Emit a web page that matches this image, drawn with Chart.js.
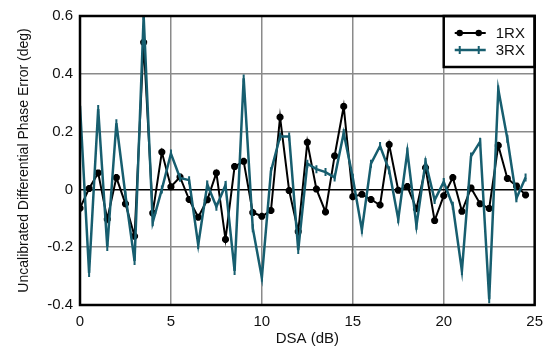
<!DOCTYPE html>
<html>
<head>
<meta charset="utf-8">
<script src="https://cdn.jsdelivr.net/npm/chart.js@4/dist/chart.umd.min.js"></script>
<style>
  html, body { margin: 0; padding: 0; background: #ffffff; }
  #wrap { width: 551px; height: 349px; position: relative; }
</style>
</head>
<body>
<div id="wrap"><canvas id="c" width="551" height="349"></canvas></div>
<script>
// ---- Data ----
const dsa = [0, 0.5, 1, 1.5, 2, 2.5, 3, 3.5, 4, 4.5, 5, 5.5, 6, 6.5, 7, 7.5, 8, 8.5, 9, 9.5,
             10, 10.5, 11, 11.5, 12, 12.5, 13, 13.5, 14, 14.5, 15, 15.5, 16, 16.5, 17, 17.5, 18, 18.5, 19, 19.5,
             20, 20.5, 21, 21.5, 22, 22.5, 23, 23.5, 24, 24.5];

const rx1 = [-0.065, 0.003, 0.057, -0.103, 0.041, -0.050, -0.162, 0.509, -0.082, 0.129,
             0.009, 0.043, -0.035, -0.096, -0.036, 0.057, -0.173, 0.079, 0.097, -0.080,
             -0.093, -0.073, 0.250, -0.004, -0.146, 0.163, 0.001, -0.078, 0.116, 0.287,
             -0.025, -0.017, -0.035, -0.054, 0.155, -0.003, 0.010, -0.067, 0.075, -0.108,
             -0.022, 0.041, -0.076, 0.005, -0.050, -0.066, 0.152, 0.038, 0.012, -0.019];

const rx3 = [0.289, -0.289, 0.278, -0.199, 0.229, -0.020, -0.248, 0.600, -0.114, 0.000,
             0.124, 0.040, 0.032, -0.192, 0.017, -0.060, 0.015, -0.282, 0.384, -0.134,
             -0.305, 0.063, 0.183, 0.183, -0.210, 0.089, 0.070, 0.060, 0.041, 0.195,
             0.040, -0.140, 0.089, 0.150, 0.066, -0.103, 0.131, -0.126, 0.095, -0.037,
             0.026, -0.057, -0.282, 0.114, 0.165, -0.380, 0.346, 0.175, -0.031, 0.041];

const seriesLabels = ['1RX', '3RX'];
const xTicks = [0, 5, 10, 15, 20, 25];
const yTicks = [-0.4, -0.2, 0, 0.2, 0.4, 0.6];
const xTitle = 'DSA (dB)';
const yTitle = 'Uncalibrated Differential Phase Error (deg)';

// ---- Styles ----
const BLACK = '#000000';
const TEAL = '#175e6f';
const GRID = '#8a8a8a';
const FONT = 'Liberation Sans, Arial, Helvetica, sans-serif';

const toPts = (xs, ys) => xs.map((x, i) => ({ x: x, y: ys[i] }));

const framePlugin = {
  id: 'frame',
  afterDatasetsDraw(chart) {
    const { ctx, chartArea: a } = chart;
    ctx.save();
    // legend box
    const lx = chart.scales.x.getPixelForValue(20);
    const lTop = a.top, lBot = a.top + 51;
    ctx.fillStyle = '#ffffff';
    ctx.fillRect(lx, lTop, a.right - lx, lBot - lTop);
    ctx.strokeStyle = BLACK;
    ctx.lineWidth = 2.5;
    ctx.strokeRect(lx, lTop, a.right - lx, lBot - lTop);
    // legend entries
    const ds = chart.data.datasets;
    const rows = [lTop + 17, lTop + 34];
    ds.forEach((d, i) => {
      const y = rows[i];
      const x0 = lx + 11, x1 = lx + 42;
      ctx.strokeStyle = d.borderColor;
      ctx.lineWidth = d.borderWidth;
      ctx.beginPath(); ctx.moveTo(x0, y); ctx.lineTo(x1, y); ctx.stroke();
      [x0 + 5, x1 - 7].forEach(px => {
        if (i === 0) {
          ctx.fillStyle = BLACK;
          ctx.beginPath(); ctx.arc(px, y, 3.2, 0, Math.PI * 2); ctx.fill();
        } else {
          ctx.lineWidth = 2;
          ctx.beginPath(); ctx.moveTo(px, y - 4); ctx.lineTo(px, y + 4); ctx.stroke();
        }
      });
      ctx.fillStyle = '#111';
      ctx.font = '15px ' + FONT;
      ctx.textBaseline = 'middle';
      ctx.textAlign = 'left';
      ctx.fillText(d.label, lx + 52, y + 1);
    });
    // plot frame
    ctx.strokeStyle = BLACK;
    ctx.lineWidth = 2.5;
    ctx.strokeRect(a.left, a.top, a.right - a.left, a.bottom - a.top);
    ctx.restore();
  }
};

new Chart(document.getElementById('c'), {
  type: 'line',
  data: {
    datasets: [
      {
        label: seriesLabels[0],
        data: toPts(dsa, rx1),
        borderColor: BLACK,
        backgroundColor: BLACK,
        borderWidth: 2,
        pointStyle: 'star',
        pointRadius: 3.5,
        pointBorderWidth: 2.5,
        pointBorderColor: BLACK,
        pointBackgroundColor: BLACK,
        tension: 0,
        order: 1
      },
      {
        label: seriesLabels[1],
        data: toPts(dsa, rx3),
        borderColor: TEAL,
        backgroundColor: TEAL,
        borderWidth: 2.5,
        pointStyle: 'line',
        rotation: 90,
        pointRadius: 4,
        pointBorderWidth: 2,
        pointBorderColor: TEAL,
        tension: 0,
        order: 0
      }
    ]
  },
  options: {
    responsive: false,
    devicePixelRatio: 1,
    animation: false,
    layout: { padding: { left: 0, right: 14, top: 14, bottom: 0 } },
    plugins: { legend: { display: false }, tooltip: { enabled: false } },
    elements: { point: { hoverRadius: 4 } },
    scales: {
      x: {
        type: 'linear',
        min: 0, max: 25,
        afterBuildTicks: s => { s.ticks = xTicks.map(v => ({ value: v })); },
        afterFit: s => { s.height = 44; },
        grid: { color: GRID, lineWidth: 1.5, drawTicks: false },
        border: { display: false },
        ticks: { color: '#111', font: { family: FONT, size: 15 }, padding: 8, maxRotation: 0,
                 callback: v => String(v) },
        title: { display: true, text: xTitle, color: '#111', font: { family: FONT, size: 15 },
                 padding: { top: 0, bottom: 1 } }
      },
      y: {
        type: 'linear',
        min: -0.4, max: 0.6,
        afterBuildTicks: s => { s.ticks = yTicks.map(v => ({ value: v })); },
        afterFit: s => { s.width = 80; },
        grid: { color: c => (c.tick && Math.abs(c.tick.value) < 1e-9) ? BLACK : GRID,
                lineWidth: 1.5, drawTicks: false },
        border: { display: false },
        ticks: { color: '#111', font: { family: FONT, size: 15 }, padding: 7,
                 callback: v => String(Number(v.toFixed(1))) },
        title: { display: true, text: yTitle, color: '#111', font: { family: FONT, size: 14 },
                 padding: { top: 16, bottom: 0 } }
      }
    }
  },
  plugins: [framePlugin]
});
</script>
</body>
</html>
